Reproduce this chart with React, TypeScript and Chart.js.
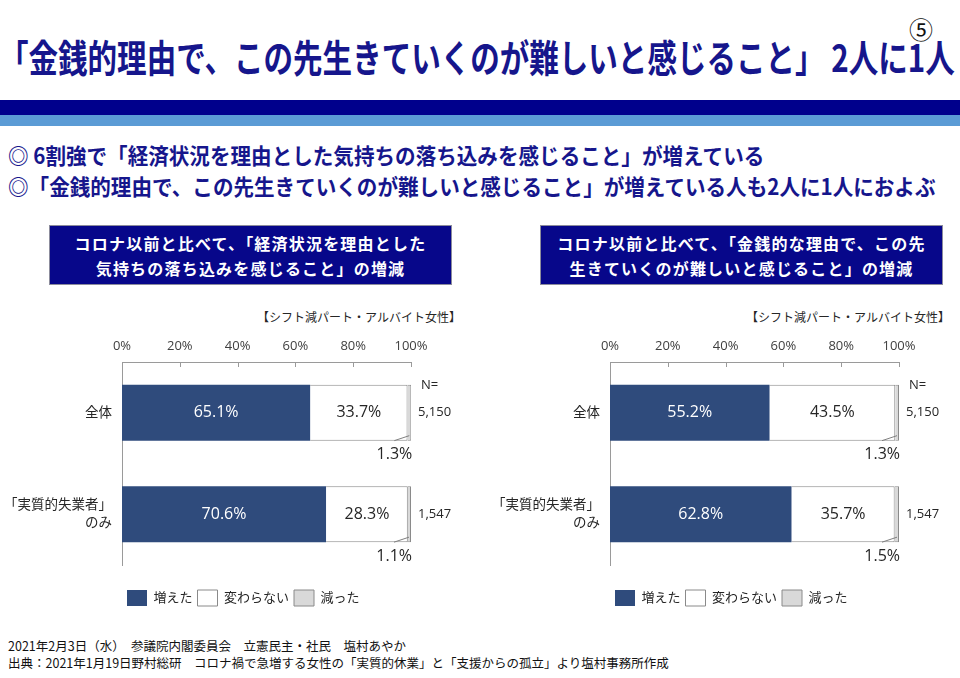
import React, { useEffect, useRef } from 'react';
import { Chart, registerables } from 'chart.js';

Chart.register(...registerables);

// ---- data ----
const categories: string[][] = [['全体'], ['「実質的失業者」', 'のみ']];
const seriesNames = ['増えた', '変わらない', '減った'];
const leftIncreased = [65.1, 70.6];
const leftUnchanged = [33.7, 28.3];
const leftDecreased = [1.3, 1.1];
const rightIncreased = [55.2, 62.8];
const rightUnchanged = [43.5, 35.7];
const rightDecreased = [1.3, 1.5];
const sampleSizes = ['5,150', '1,547'];
const xTickValues = [0, 20, 40, 60, 80, 100];

const titleText = '「金銭的理由で、この先生きていくのが難しいと感じること」 2人に1人';
const bullet1 = '◎ 6割強で「経済状況を理由とした気持ちの落ち込みを感じること」が増えている';
const bullet2 = '◎「金銭的理由で、この先生きていくのが難しいと感じること」が増えている人も2人に1人におよぶ';
const leftHeader = ['コロナ以前と比べて、「経済状況を理由とした', '気持ちの落ち込みを感じること」の増減'];
const rightHeader = ['コロナ以前と比べて、「金銭的な理由で、この先', '生きていくのが難しいと感じること」の増減'];
const sampleNote = '【シフト減パート・アルバイト女性】';
const footer1 = '2021年2月3日（水）　参議院内閣委員会　立憲民主・社民　塩村あやか';
const footer2 = '出典：2021年1月19日野村総研　コロナ禍で急増する女性の「実質的休業」と「支援からの孤立」より塩村事務所作成';

// ---- styles ----
const FONT = "'Open Sans', 'Noto Sans CJK JP', sans-serif";
const JP = "'Noto Sans CJK JP', sans-serif";
const BLUE = '#2f4b7c';
const EDGE = '#8a8a8a';
const AXIS = '#9a9a9a';
const NAVY = '#16168c';

function makeAnnotations(sizes: string[]) {
  return {
    id: 'annotations',
    afterDatasetsDraw(chart: any) {
      const { ctx, chartArea, scales } = chart;
      const xs = scales.x;
      ctx.save();
      // small tick marks below the top axis line
      ctx.strokeStyle = AXIS;
      ctx.lineWidth = 1;
      xTickValues.forEach((v) => {
        const px = Math.round(xs.getPixelForValue(v)) + 0.5;
        ctx.beginPath();
        ctx.moveTo(px, chartArea.top);
        ctx.lineTo(px, chartArea.top + 5);
        ctx.stroke();
      });
      chart.data.datasets.forEach((ds: any, di: number) => {
        const meta = chart.getDatasetMeta(di);
        meta.data.forEach((el: any, i: number) => {
          const p = el.getProps(['x', 'y', 'base', 'height'], true);
          const text = Number(ds.data[i]).toFixed(1) + '%';
          ctx.font = `16px ${FONT}`;
          ctx.textBaseline = 'middle';
          if (di < 2) {
            ctx.fillStyle = di === 0 ? '#ffffff' : '#262626';
            ctx.textAlign = 'center';
            ctx.fillText(text, (p.x + p.base) / 2, p.y);
          } else {
            const bottom = p.y + p.height / 2;
            ctx.strokeStyle = '#7f7f7f';
            ctx.beginPath();
            ctx.moveTo(p.x - 2, bottom - 5);
            ctx.lineTo(p.x - 17, bottom);
            ctx.stroke();
            ctx.fillStyle = '#262626';
            ctx.textAlign = 'right';
            ctx.fillText(text, p.x + 1, bottom + 14);
          }
        });
      });
      // sample size column
      const meta0 = chart.getDatasetMeta(0);
      ctx.fillStyle = '#262626';
      ctx.font = `13px ${FONT}`;
      ctx.textAlign = 'left';
      ctx.textBaseline = 'middle';
      meta0.data.forEach((el: any, i: number) => {
        const p = el.getProps(['y', 'height'], true);
        if (i === 0) ctx.fillText('N=', chartArea.right + 10, p.y - p.height / 2);
        ctx.fillText(sizes[i], chartArea.right + 7, p.y);
      });
      ctx.restore();
    },
  };
}

type BarProps = {
  inc: number[];
  unc: number[];
  dec: number[];
  left: number;
  width: number;
  yWidth: number;
  padRight: number;
};

function StackedBars({ inc, unc, dec, left, width, yWidth, padRight }: BarProps) {
  const ref = useRef<HTMLCanvasElement>(null);
  useEffect(() => {
    const chart = new Chart(ref.current as HTMLCanvasElement, {
      type: 'bar',
      data: {
        labels: categories as any,
        datasets: [
          { label: seriesNames[0], data: inc, backgroundColor: BLUE, borderColor: BLUE, borderWidth: 0 },
          { label: seriesNames[1], data: unc, backgroundColor: '#ffffff', borderColor: EDGE, borderWidth: 1 },
          { label: seriesNames[2], data: dec, backgroundColor: '#d9d9d9', borderColor: EDGE, borderWidth: 1 },
        ],
      },
      options: {
        indexAxis: 'y',
        responsive: false,
        maintainAspectRatio: false,
        animation: false,
        layout: { padding: { top: 0, right: padRight, bottom: 0, left: 0 } },
        datasets: { bar: { barPercentage: 0.55, categoryPercentage: 1 } } as any,
        scales: {
          x: {
            position: 'top',
            stacked: true,
            min: 0,
            max: 100,
            ticks: {
              stepSize: 20,
              callback: (v: any) => v + '%',
              padding: 8,
              color: '#404040',
              maxRotation: 0,
              font: { family: FONT, size: 13 },
            },
            grid: { display: false, drawTicks: false },
            border: { display: true, color: AXIS },
            afterFit: (s: any) => {
              s.height = 32;
            },
          },
          y: {
            stacked: true,
            ticks: {
              padding: 10,
              color: '#262626',
              font: { family: FONT, size: 13.5, lineHeight: 1.35 },
            },
            grid: { display: false, drawTicks: false },
            border: { display: true, color: AXIS },
            afterFit: (s: any) => {
              s.width = yWidth;
            },
          },
        },
        plugins: {
          tooltip: { enabled: false },
          legend: {
            position: 'bottom',
            align: 'start',
            fullSize: false,
            title: { display: true, text: '', padding: { top: 8, bottom: 0 }, font: { size: 10 } },
            labels: {
              boxWidth: 20,
              boxHeight: 16,
              padding: 5,
              color: '#262626',
              font: { family: FONT, size: 13 },
            },
          },
        },
      },
      plugins: [makeAnnotations(sampleSizes)],
    });
    return () => chart.destroy();
  }, []);
  return (
    <canvas
      ref={ref}
      width={width}
      height={286}
      style={{ position: 'absolute', left, top: 330, width, height: 286 }}
    />
  );
}

function HeaderBox({ lines, left }: { lines: string[]; left: number }) {
  return (
    <div
      style={{
        position: 'absolute',
        left,
        top: 225,
        width: 403,
        height: 60,
        boxSizing: 'border-box',
        background: '#07078a',
        border: '1px solid #8c8c9c',
        color: '#ffffff',
        fontFamily: JP,
        fontWeight: 700,
        fontSize: 16,
        letterSpacing: 1.2,
        lineHeight: '25px',
        display: 'flex',
        flexDirection: 'column',
        alignItems: 'center',
        justifyContent: 'center',
        paddingTop: 2,
        whiteSpace: 'nowrap',
      }}
    >
      {lines.map((l, i) => (
        <div key={i}>{l}</div>
      ))}
    </div>
  );
}

export default function App() {
  const abs = (s: React.CSSProperties): React.CSSProperties => ({ position: 'absolute', whiteSpace: 'nowrap', ...s });
  const bullet: React.CSSProperties = {
    left: 8,
    fontFamily: JP,
    fontWeight: 700,
    fontSize: 22,
    lineHeight: '22px',
    color: NAVY,
    transform: 'scaleX(0.935)',
    transformOrigin: '0 0',
  };
  return (
    <div style={{ position: 'absolute', left: 0, top: 0, width: 960, height: 678, overflow: 'hidden', background: '#ffffff' }}>
      <div
        style={abs({
          left: -1,
          top: 37,
          fontFamily: JP,
          fontWeight: 700,
          fontSize: 38,
          lineHeight: '38px',
          color: NAVY,
          transform: 'scaleX(0.777)',
          transformOrigin: '0 0',
        })}
      >
        {titleText}
      </div>
      <div style={abs({ left: 909, top: 15, fontFamily: JP, fontSize: 24, lineHeight: '28px', color: '#111' })}>⑤</div>
      <div style={abs({ left: 0, top: 100, width: 960, height: 15, background: '#00008c' })} />
      <div style={abs({ left: 0, top: 115, width: 960, height: 11, background: '#5b9bd5' })} />
      <div style={abs({ ...bullet, top: 143 })}>{bullet1}</div>
      <div style={abs({ ...bullet, top: 174 })}>{bullet2}</div>
      <HeaderBox lines={leftHeader} left={49} />
      <HeaderBox lines={rightHeader} left={540} />
      <div style={abs({ right: 960 - 461, top: 308, fontFamily: JP, fontSize: 12, lineHeight: '18px', color: '#262626' })}>
        {sampleNote}
      </div>
      <div style={abs({ right: 960 - 950, top: 308, fontFamily: JP, fontSize: 12, lineHeight: '18px', color: '#262626' })}>
        {sampleNote}
      </div>
      <StackedBars inc={leftIncreased} unc={leftUnchanged} dec={leftDecreased} left={8} width={472} yWidth={114} padRight={69} />
      <StackedBars inc={rightIncreased} unc={rightUnchanged} dec={rightDecreased} left={490} width={470} yWidth={120} padRight={61} />
      <div style={abs({ left: 8, top: 637, fontFamily: JP, fontSize: 12.5, lineHeight: '17px', color: '#111' })}>{footer1}</div>
      <div style={abs({ left: 8, top: 654, fontFamily: JP, fontSize: 12.5, lineHeight: '17px', color: '#111' })}>{footer2}</div>
    </div>
  );
}
